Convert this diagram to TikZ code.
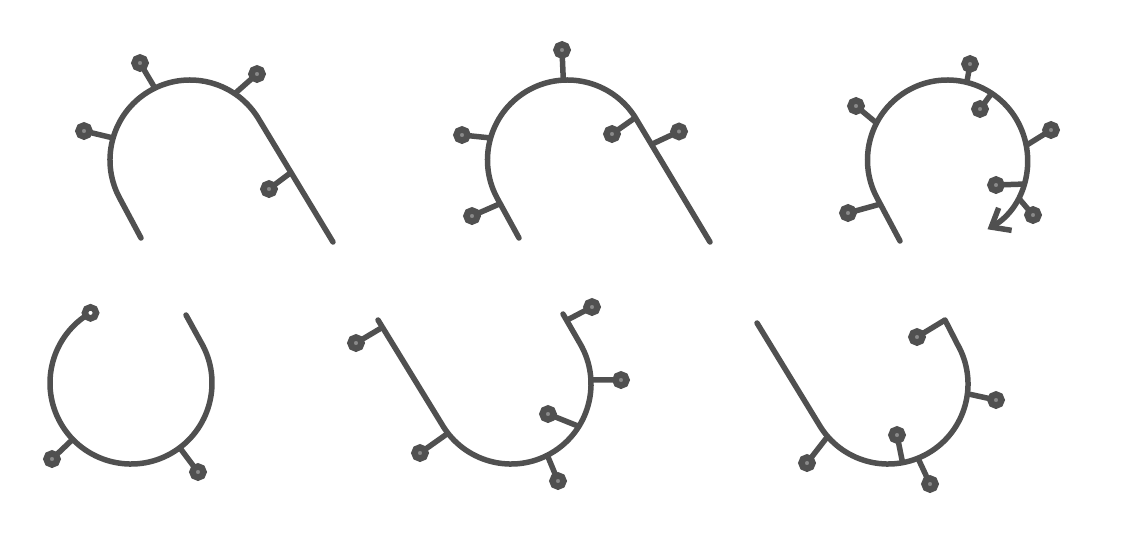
\documentclass[tikz,border=0pt]{standalone}
\usetikzlibrary{arrows.meta}
\definecolor{ink}{RGB}{80,80,80}
\definecolor{pip}{RGB}{138,138,138}

\begin{document}
\begin{tikzpicture}[x=0.5pt, y=-0.5pt, color=ink, line width=2.75pt,
    wire/.style={line cap=round, line join=round},
    knob/.style={circle, draw, fill=pip, line width=3.2pt, inner sep=0pt, outer sep=0pt, minimum size=5.6pt},
    hole/.style={knob, fill=white}]

        \useasboundingbox (0,0) rectangle (1140,542);

        \coordinate (o1) at (190,160);
        \path (o1) ++(152:80) coordinate (s1);
        \draw[wire] (141,238) -- (s1) arc[start angle=152, end angle=330, radius=80]
              -- coordinate[pos=.43] (a4) (333,242);
        \path (o1) ++(244:80) coordinate (a1) (o1) ++(304:80) coordinate (a2) (o1) ++(196:80) coordinate (a3);
        \node[knob] (A1) at (140,63)  {};
        \node[knob] (A2) at (257,74)  {};
        \node[knob] (A3) at (84,131)  {};
        \node[knob] (A4) at (269,189) {};
        \path (a1) edge (A1) (a2) edge (A2) (a3) edge (A3) (a4) edge (A4);

        \coordinate (o2) at (567.5,160);
        \path (o2) ++(152:80) coordinate (s2);
        \draw[wire] (519,238) -- coordinate[pos=.85] (b3) (s2) arc[start angle=152, end angle=330, radius=80]
              -- coordinate[pos=.2] (b5) (710,242);
        \path (o2) ++(267:80) coordinate (b1) (o2) ++(196:80) coordinate (b2) (o2) ++(328:80) coordinate (b4);
        \node[knob] (B1) at (562,50)    {};
        \node[knob] (B2) at (462,135)   {};
        \node[knob] (B3) at (472,216)   {};
        \node[knob] (B4) at (612,134)   {};
        \node[knob] (B5) at (679,131.5) {};
        \path (b1) edge (B1) (b2) edge (B2) (b3) edge (B3) (b4) edge (B4) (b5) edge (B5);

        \coordinate (o3) at (947.5,160);
        \path (o3) ++(152:80) coordinate (s3);
        \draw[wire, -{Straight Barb[length=8pt, width=13pt]}] (900,241) -- coordinate[pos=.85] (c7) (s3)
              arc[start angle=152, end angle=420, radius=80];
        \path (o3) ++(284:80) coordinate (c1) (o3) ++(303.5:80) coordinate (c2) (o3) ++(349.5:80) coordinate (c3)
              (o3) ++(17.5:80) coordinate (c4) (o3) ++(28:80) coordinate (c5) (o3) ++(207.5:80) coordinate (c6);
        \node[knob] (C1) at (970,64)   {};
        \node[knob] (C2) at (980,109)  {};
        \node[knob] (C3) at (1051,130) {};
        \node[knob] (C4) at (996,185)  {};
        \node[knob] (C5) at (1033,215) {};
        \node[knob] (C6) at (856,106)  {};
        \node[knob] (C7) at (848,213)  {};
        \path (c1) edge (C1) (c2) edge (C2) (c3) edge (C3) (c4) edge (C4)
              (c5) edge (C5) (c6) edge (C6) (c7) edge (C7);

        \coordinate (o4) at (131,383);
        \path (o4) ++(240:81) coordinate (s4);
        \draw[wire] (s4) arc[start angle=240, end angle=-30, radius=81] -- (186,315);
        \node[hole] (R) at (s4) {};
        \path (o4) ++(136:81) coordinate (d1) (o4) ++(53:81) coordinate (d2);
        \node[knob] (D1) at (52,459)  {};
        \node[knob] (D2) at (198,472) {};
        \path (d1) edge (D1) (d2) edge (D2);

        \coordinate (o5) at (511,384);
        \path (o5) ++(150:80) coordinate (s5);
        \draw[wire] (378,320) -- coordinate[pos=.07] (e1) (s5) arc[start angle=150, end angle=-30, radius=80]
              -- coordinate[pos=.79] (e2) (563,314);
        \path (o5) ++(357:80) coordinate (e3) (o5) ++(32:80) coordinate (e4) (o5) ++(63:80) coordinate (e5)
              (o5) ++(142:80) coordinate (e6);
        \node[knob] (E1) at (356,343) {};
        \node[knob] (E2) at (592,307) {};
        \node[knob] (E3) at (621,380) {};
        \node[knob] (E4) at (548,414) {};
        \node[knob] (E5) at (558,481) {};
        \node[knob] (E6) at (420,453) {};
        \path (e1) edge (E1) (e2) edge (E2) (e3) edge (E3) (e4) edge (E4) (e5) edge (E5) (e6) edge (E6);

        \coordinate (o6) at (888,384);
        \path (o6) ++(150:80) coordinate (s6);
        \draw[wire] (757,323) -- (s6) arc[start angle=150, end angle=-30, radius=80] -- (945,320) coordinate (f1);
        \path (o6) ++(7:80) coordinate (f2) (o6) ++(79.5:80) coordinate (f3) (o6) ++(68:80) coordinate (f4)
              (o6) ++(139:80) coordinate (f5);
        \node[knob] (F1) at (917,337) {};
        \node[knob] (F2) at (996,400) {};
        \node[knob] (F3) at (897,435) {};
        \node[knob] (F4) at (930,484) {};
        \node[knob] (F5) at (807,463) {};
        \path (f1) edge (F1) (f2) edge (F2) (f3) edge (F3) (f4) edge (F4) (f5) edge (F5);

\end{tikzpicture}
\end{document}
